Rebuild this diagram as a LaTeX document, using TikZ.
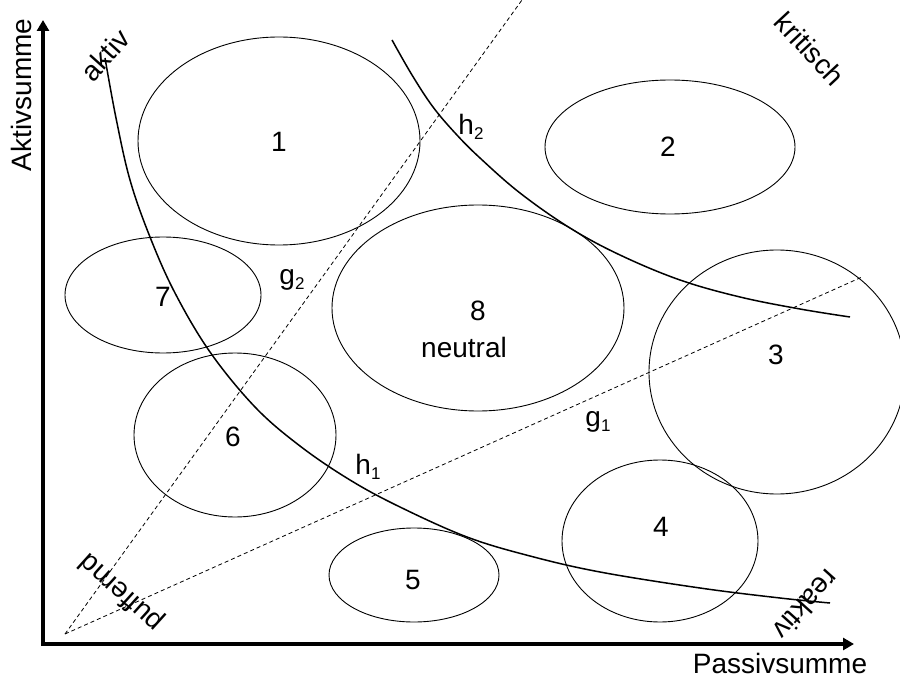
\documentclass[tikz,border=0pt]{standalone}
\usepackage{fontspec}
\setmainfont{Liberation Sans}
\usetikzlibrary{arrows.meta}
\newcommand{\tief}[1]{\raisebox{-0.3ex}{\fontsize{17}{19}\selectfont #1}}

\begin{document}
\begin{tikzpicture}[x=1pt,y=-1pt,
		lbl/.style={font=\fontsize{28}{32}\selectfont,inner sep=0pt},
		axis/.style={line width=4.5pt,{Triangle[length=11pt,width=12pt]}-{Triangle[length=11pt,width=12pt]}},
		ell/.style={line width=0.9pt},
		kurve/.style={line width=1.5pt},
		gerade/.style={line width=0.8pt,dash pattern=on 4pt off 3pt}]
			\useasboundingbox (0,0) rectangle (900,679);
			
			\coordinate (O) at (43,644);
			\coordinate (Y) at (43,20);
			\coordinate (X) at (854,644);
			\draw[axis] (Y)--(O)--(X);
			\node[lbl,rotate=90] (ay) at (21,95) {Aktivsumme};
			\node[lbl] (ax) at (780,663) {Passivsumme};
			
			\coordinate (P) at (65,634);
			\coordinate (G1) at (862,277);
			\coordinate (G2) at (522,0);
			\draw[gerade] (P)--(G1);
			\draw[gerade] (P)--(G2);
			
			\draw[ell] (279,141) ellipse [x radius=141pt,y radius=104pt];
			\draw[ell] (670,147) ellipse [x radius=125pt,y radius=67pt];
			\draw[ell] (777,372) ellipse [x radius=128pt,y radius=122pt];
			\draw[ell] (660,541) ellipse [x radius=98pt,y radius=81pt];
			\draw[ell] (414,575) ellipse [x radius=85pt,y radius=47pt];
			\draw[ell] (235,435) ellipse [x radius=101pt,y radius=82pt];
			\draw[ell] (163,295) ellipse [x radius=98pt,y radius=58pt];
			\draw[ell] (478,308) ellipse [x radius=146pt,y radius=103pt];
			
			\draw[kurve] plot[smooth,tension=0.6] coordinates {(105,58) (116,118) (130,180) (150,237) (175,293) (210,352) (255,407) (300,446) (350,480) (400,507) (467,537) (530,556) (600,572) (700,588) (780,598) (830,603)};
			\draw[kurve] plot[smooth,tension=0.6] coordinates {(392,40) (412,75) (433,107) (456,134) (480,158) (520,193) (570,228) (620,255) (680,280) (740,297) (800,309) (850,317)};
			
			\node[lbl] (n1) at (279,142) {1};
			\node[lbl] (n2) at (668,147) {2};
			\node[lbl] (n3) at (776,355) {3};
			\node[lbl] (n4) at (661,527) {4};
			\node[lbl] (n5) at (413,580) {5};
			\node[lbl] (n6) at (233,437) {6};
			\node[lbl] (n7) at (163,297) {7};
			\node[lbl] (n8) at (478,311) {8};
			\node[lbl] (neu) at (464,347) {neutral};
			
			\node[lbl] (g1) at (598,422) {g\tief{1}};
			\node[lbl] (g2) at (292,280) {g\tief{2}};
			\node[lbl] (h1) at (368,467) {h\tief{1}};
			\node[lbl] (h2) at (471,127) {h\tief{2}};
			
			\node[lbl,rotate=48] (akt) at (105,55) {aktiv};
			\node[lbl,rotate=-47] (krit) at (810,49) {kritisch};
			\node[lbl,rotate=138] (puf) at (122,592) {puffernd};
			\node[lbl,rotate=-132] (rea) at (806,605) {reaktiv};
		\end{tikzpicture}
\end{document}
